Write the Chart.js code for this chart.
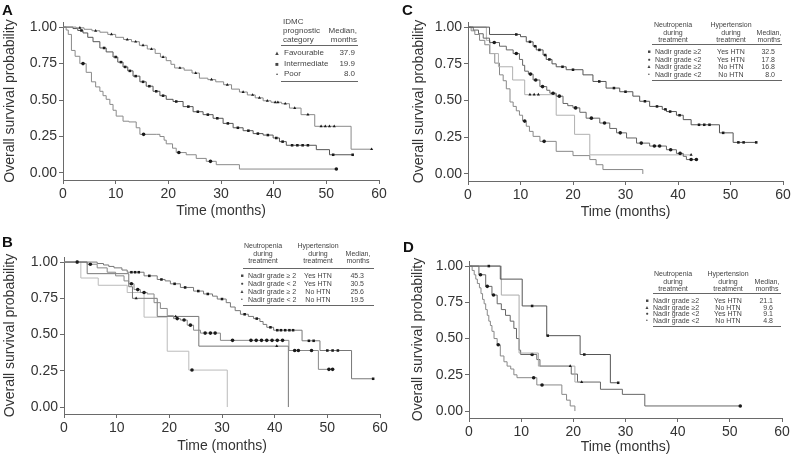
<!DOCTYPE html>
<html>
<head>
<meta charset="utf-8">
<script src="https://cdn.jsdelivr.net/npm/chart.js@4.4.1/dist/chart.umd.min.js"></script>
<style>
  body { margin: 0; background: #fff; font-family: 'Liberation Sans', Arial, sans-serif; }
  #fig { position: relative; width: 792px; height: 464px; overflow: hidden; background: #fff; }
  canvas { position: absolute; }
  .t { position: absolute; white-space: nowrap; line-height: 1; color: #444; }
  .rule { position: absolute; height: 0; border-top: 1px solid #666; }
  .letter { position: absolute; font-weight: bold; font-size: 15px; color: #111; line-height: 1; }
</style>
</head>
<body>
<div id="fig">
  <canvas id="cA" width="396" height="222" style="left:0;top:0"></canvas>
  <canvas id="cC" width="396" height="223" style="left:396px;top:0"></canvas>
  <canvas id="cB" width="396" height="225" style="left:0;top:232px"></canvas>
  <canvas id="cD" width="396" height="226" style="left:396px;top:232px"></canvas>
</div>
<script>
// Axis ticks
const xTicks = [0, 10, 20, 30, 40, 50, 60];
const yTicks = [0, 0.25, 0.5, 0.75, 1];

// Curves: [time (months), survival, censor mark 1/0]
// Panel A - IDMC prognostic category
const aFav = [[0,1,0],[2.5,0.995,0],[3.2,0.995,1],[4,0.985,0],[5.5,0.975,0],[6.2,0.975,1],[7,0.965,0],[8.5,0.95,0],[9.2,0.95,1],[10,0.93,0],[11.5,0.915,0],[12.2,0.915,1],[13,0.9,0],[13.8,0.9,1],[14.5,0.875,0],[15.2,0.875,1],[16,0.85,0],[16.8,0.85,1],[17.5,0.82,0],[18.5,0.795,0],[19,0.795,1],[19.6,0.77,0],[20.5,0.745,0],[21.2,0.72,0],[22.2,0.72,1],[23,0.705,0],[24.5,0.685,0],[25.2,0.685,1],[25.9,0.65,0],[27.5,0.64,0],[28.2,0.64,1],[29,0.625,0],[30.5,0.605,0],[31.2,0.605,1],[32,0.575,0],[33.5,0.555,0],[34.2,0.555,1],[35,0.535,0],[36,0.535,1],[36.5,0.515,0],[37.3,0.515,1],[38,0.495,0],[38.8,0.495,1],[39.5,0.485,0],[40.3,0.485,1],[40.8,0.485,1],[41.5,0.475,0],[42.2,0.475,1],[43,0.445,0],[44,0.445,1],[45.2,0.4,0],[46.5,0.4,1],[47.8,0.32,0],[49,0.32,1],[49.8,0.32,1],[50.6,0.32,1],[51.5,0.32,1],[54.7,0.163,0],[58.6,0.163,1]];
const aInt = [[0,1,0],[1.9,0.99,0],[2.8,0.977,0],[3.5,0.977,1],[3.8,0.96,0],[4.7,0.93,0],[5.7,0.9,0],[7,0.857,0],[7.8,0.857,1],[8.2,0.83,0],[9.5,0.795,0],[10,0.795,1],[10.4,0.76,0],[11,0.76,1],[11.4,0.727,0],[11.8,0.727,1],[12.3,0.7,0],[12.7,0.7,1],[13.3,0.664,0],[13.8,0.664,1],[14.6,0.625,0],[15.2,0.625,1],[15.8,0.595,0],[16.4,0.595,1],[17.1,0.56,0],[17.7,0.56,1],[18.4,0.53,0],[19,0.53,1],[19.6,0.505,0],[20.9,0.49,0],[21.5,0.49,1],[22.8,0.455,0],[23.8,0.455,1],[24.7,0.42,0],[25.6,0.42,1],[26.6,0.4,0],[27.5,0.4,1],[28.5,0.375,0],[29.3,0.375,1],[30.4,0.34,0],[31.3,0.34,1],[32.3,0.31,0],[33.2,0.31,1],[34.2,0.29,0],[35.2,0.29,1],[36.1,0.27,0],[37,0.27,1],[38,0.26,0],[38.9,0.26,1],[39.9,0.24,0],[40.5,0.24,1],[41.1,0.215,0],[41.7,0.215,1],[42.4,0.19,0],[43.5,0.19,1],[44.5,0.19,1],[45.5,0.19,1],[46.5,0.19,1],[48.1,0.16,0],[50.6,0.125,0],[51.3,0.125,1],[55,0.125,1]];
const aPoor = [[0,1,0],[0.6,0.98,0],[1,0.95,0],[1.6,0.84,0],[2.3,0.8,0],[3.2,0.75,0],[3.8,0.75,1],[4.4,0.69,0],[5.4,0.625,0],[6.2,0.59,0],[7,0.56,0],[7.6,0.53,0],[8.2,0.505,0],[8.9,0.47,0],[9.5,0.43,0],[10.1,0.39,0],[11.4,0.355,0],[12.5,0.35,0],[13.9,0.31,0],[14.6,0.265,0],[15.3,0.265,1],[17.7,0.265,0],[18.4,0.25,0],[19.2,0.225,0],[19.6,0.2,0],[20.8,0.17,0],[21.5,0.14,0],[22,0.14,1],[23.4,0.125,0],[25.3,0.1,0],[27.2,0.08,0],[28,0.08,1],[29.1,0.057,0],[33.5,0.027,0],[51.9,0.027,1]];

// Panel B - neutropenia x hypertension (first cohort)
const bGeYes = [[0,1,0],[2.5,1,1],[6.3,0.99,0],[7.5,0.98,0],[8.5,0.97,0],[9.5,0.96,0],[11,0.945,0],[12,0.93,0],[12.8,0.93,1],[13.5,0.93,1],[14.2,0.93,1],[15.2,0.905,0],[16.2,0.905,1],[17.7,0.88,0],[18.5,0.88,1],[19.2,0.87,0],[20.2,0.85,0],[21,0.85,1],[22.1,0.825,0],[23,0.825,1],[24.6,0.8,0],[25.5,0.8,1],[26.5,0.78,0],[27.3,0.78,1],[28.2,0.765,0],[29.1,0.745,0],[30,0.745,1],[30.8,0.72,0],[31.6,0.69,0],[32.5,0.665,0],[33.5,0.64,0],[34.3,0.64,1],[35,0.625,0],[36,0.61,0],[36.6,0.61,1],[37.2,0.59,0],[37.8,0.57,0],[38.5,0.55,0],[39.2,0.55,1],[39.8,0.53,0],[40.5,0.53,1],[41.2,0.53,1],[42,0.53,1],[42.8,0.53,1],[43.5,0.53,1],[45.2,0.457,0],[46.5,0.457,1],[47.4,0.457,1],[48.6,0.39,0],[50,0.39,1],[51,0.39,1],[52,0.39,1],[54.6,0.195,0],[58.7,0.195,1]];
const bLtYes = [[0,1,0],[2.5,1,1],[4.4,0.985,0],[5,0.985,1],[6.3,0.96,0],[8.2,0.93,0],[9.8,0.905,0],[11.4,0.87,0],[12.3,0.85,0],[12.8,0.85,1],[13.3,0.81,0],[14,0.81,1],[14.5,0.79,0],[15.2,0.79,1],[15.8,0.78,0],[17.1,0.72,0],[18.3,0.68,0],[19.6,0.63,0],[20.8,0.61,0],[21.5,0.61,1],[22.1,0.6,0],[22.8,0.6,1],[23.4,0.565,0],[24,0.565,1],[24.6,0.53,0],[25.9,0.51,0],[26.8,0.51,1],[27.8,0.51,1],[28.7,0.51,1],[29.7,0.46,0],[32,0.46,1],[35.5,0.46,1],[36.5,0.46,1],[37.5,0.46,1],[38.5,0.46,1],[39.5,0.46,1],[40.5,0.46,1],[41.5,0.46,1],[42.7,0.39,0],[43.8,0.39,1],[44.5,0.39,1],[47,0.39,1],[48.3,0.26,0],[50.3,0.26,1],[51,0.26,1]];
const bGeNo = [[0,1,0],[4.4,0.92,0],[12.3,0.83,0],[13,0.75,0],[13.7,0.75,1],[17.7,0.625,0],[21.2,0.625,1],[25.6,0.42,0],[40.4,0.42,1],[42.6,0,0]];
const bLtNo = [[0,1,0],[3.2,0.89,0],[6.5,0.84,0],[12,0.79,0],[15.2,0.62,0],[19.6,0.385,0],[23.7,0.255,0],[24.3,0.255,1],[31,0,0]];

// Panel C - neutropenia x hypertension (second cohort)
const cGeYes = [[0,1,0],[4.1,0.95,0],[9.2,0.95,1],[10,0.935,0],[11.1,0.9,0],[11.8,0.9,1],[12.4,0.87,0],[12.8,0.87,1],[13,0.845,0],[13.6,0.845,1],[14.3,0.81,0],[14.7,0.81,1],[14.9,0.78,0],[15.5,0.78,1],[16,0.75,0],[16.8,0.73,0],[18,0.73,1],[18.7,0.71,0],[20,0.71,1],[21.9,0.675,0],[23.8,0.63,0],[25,0.63,1],[26.3,0.585,0],[27.8,0.585,1],[28.9,0.56,0],[30,0.56,1],[31.4,0.53,0],[32.7,0.495,0],[33.7,0.495,1],[34.6,0.46,0],[36,0.46,1],[37,0.44,0],[37.6,0.44,1],[37.8,0.425,0],[38.5,0.425,1],[39.7,0.4,0],[40.3,0.4,1],[41,0.37,0],[42.5,0.335,0],[44,0.335,1],[45,0.335,1],[46,0.335,1],[47.9,0.28,0],[48.6,0.28,1],[50.5,0.215,0],[51.5,0.215,1],[52.5,0.215,1],[54.9,0.215,1]];
const cLtYes = [[0,1,0],[1,0.98,0],[2,0.955,0],[2.9,0.925,0],[4.1,0.895,0],[5,0.895,1],[6,0.87,0],[7.3,0.845,0],[8.6,0.82,0],[9.2,0.82,1],[9.8,0.78,0],[10.4,0.74,0],[10.8,0.7,0],[11.5,0.68,0],[11.9,0.68,1],[12.4,0.64,0],[12.9,0.64,1],[13.7,0.595,0],[14.2,0.595,1],[15,0.57,0],[15.6,0.55,0],[16.2,0.55,1],[16.8,0.53,0],[17.4,0.53,1],[18.1,0.48,0],[19,0.465,0],[20,0.45,0],[20.5,0.45,1],[21.3,0.42,0],[22.5,0.38,0],[23.5,0.38,1],[25.1,0.347,0],[26,0.347,1],[27,0.31,0],[28.3,0.28,0],[29,0.28,1],[30.2,0.245,0],[32.1,0.21,0],[33,0.21,1],[34.6,0.19,0],[35.5,0.19,1],[36.5,0.19,1],[37.8,0.165,0],[38.6,0.165,1],[39.7,0.14,0],[40.4,0.14,1],[41,0.12,0],[41.6,0.098,0],[42.5,0.098,1],[43.5,0.098,1]];
const cGeNo = [[0,1,0],[3.5,0.91,0],[4.2,0.82,0],[5.8,0.73,0],[8.5,0.64,0],[10.8,0.54,0],[11.8,0.54,1],[12.6,0.54,1],[13.4,0.54,1],[16.8,0.4,0],[20.3,0.27,0],[23.2,0.13,0],[42.5,0.13,1]];
const cLtNo = [[0,1,0],[0.6,0.975,0],[1.3,0.95,0],[2.2,0.91,0],[3.2,0.88,0],[4.1,0.82,0],[5.1,0.755,0],[6,0.675,0],[6.7,0.635,0],[7.3,0.58,0],[8,0.49,0],[8.6,0.46,0],[9.2,0.43,0],[9.8,0.4,0],[10.4,0.36,0],[10.8,0.36,1],[11.1,0.325,0],[11.7,0.29,0],[12.4,0.256,0],[13.7,0.222,0],[14.5,0.222,1],[16.8,0.154,0],[20,0.125,0],[23.2,0.098,0],[24.4,0.063,0],[25.7,0.03,0],[33.3,0,0]];

// Panel D - neutropenia x hypertension (third cohort)
const dGeYes = [[0,1,0],[3.8,1,1],[6,0.91,0],[10.2,0.725,0],[12.1,0.725,1],[14.9,0.52,0],[15.1,0.52,1],[21.3,0.39,0],[22.1,0.39,1],[27.1,0.195,0],[28.6,0.195,1]];
const dGeNo = [[0,1,0],[6.2,0.8,0],[9.6,0.4,0],[13.3,0.31,0],[19.4,0.31,1],[20.3,0.2,0],[21.6,0.2,1]];
const dLtYes = [[0,1,0],[1.9,0.94,0],[2.2,0.94,1],[3.2,0.86,0],[3.5,0.86,1],[4.4,0.8,0],[4.7,0.8,1],[5.4,0.74,0],[6.2,0.7,0],[7,0.66,0],[7.9,0.62,0],[8.6,0.57,0],[9.1,0.5,0],[9.6,0.42,0],[9.9,0.39,0],[12.1,0.39,1],[13,0.355,0],[13.6,0.31,0],[19.6,0.255,0],[20.8,0.2,0],[25.2,0.15,0],[29.4,0.115,0],[33.7,0.035,0],[52,0.035,1]];
const dLtNo = [[0,1,0],[0.6,0.97,0],[1,0.94,0],[1.3,0.91,0],[1.6,0.88,0],[2,0.85,0],[2.3,0.81,0],[2.6,0.77,0],[2.9,0.74,0],[3.2,0.7,0],[3.5,0.66,0],[3.8,0.62,0],[4.1,0.59,0],[4.4,0.55,0],[4.8,0.5,0],[5.4,0.457,0],[5.6,0.457,1],[6,0.38,0],[6.7,0.34,0],[7.3,0.31,0],[8,0.29,0],[8.6,0.25,0],[9.2,0.23,0],[12.4,0.23,1],[13,0.18,0],[14,0.18,1],[17.8,0.115,0],[18.7,0.075,0],[19.4,0.035,0],[20.3,0,0]];

// Legend tables
const aGroups = ['Favourable', 'Intermediate', 'Poor'];
const aMedians = ['37.9', '19.9', '8.0'];
const bGrades = ['Nadir grade \u2265 2', 'Nadir grade < 2', 'Nadir grade \u2265 2', 'Nadir grade < 2'];
const bHtn = ['Yes HTN', 'Yes HTN', 'No HTN', 'No HTN'];
const bMedians = ['45.3', '30.5', '25.6', '19.5'];
const cGrades = ['Nadir grade \u22652', 'Nadir grade <2', 'Nadir grade \u22652', 'Nadir grade <2'];
const cHtn = ['Yes HTN', 'Yes HTN', 'No HTN', 'No HTN'];
const cMedians = ['32.5', '17.8', '16.8', '8.0'];
const dGrades = ['Nadir grade \u22652', 'Nadir grade \u22652', 'Nadir grade <2', 'Nadir grade <2'];
const dHtn = ['Yes HTN', 'No HTN', 'Yes HTN', 'No HTN'];
const dMedians = ['21.1', '9.6', '9.1', '4.8'];

const FONT = "'Liberation Sans', Arial, sans-serif";
const fig = document.getElementById('fig');

// Build one Kaplan-Meier line dataset
function km(rows, color, style) {
    return {
        data: rows.map(r => ({ x: r[0], y: r[1] })),
        stepped: true,
        borderColor: color,
        borderWidth: 1,
        pointRadius: rows.map(r => r[2] ? 1.8 : 0),
        pointStyle: style,
        pointBackgroundColor: '#1a1a1a',
        pointBorderWidth: 0,
        fill: false
    };
}

function makePanel(id, w, h, padL, area, datasets) {
    const axisColor = '#6a6a6a';
    const textColor = '#333';
    return new Chart(document.getElementById(id), {
        type: 'line',
        data: { datasets: datasets },
        options: {
            responsive: false,
            animation: false,
            layout: { padding: { left: padL, top: area.top, right: w - area.right, bottom: 0 } },
            plugins: { legend: { display: false }, tooltip: { enabled: false } },
            scales: {
                x: {
                    type: 'linear', min: 0, max: 60,
                    afterBuildTicks: ax => { ax.ticks = xTicks.map(v => ({ value: v })); },
                    ticks: { font: { family: FONT, size: 14 }, color: textColor, padding: 2, maxRotation: 0 },
                    grid: { drawOnChartArea: false, drawTicks: true, tickLength: 4, color: axisColor },
                    border: { color: axisColor, width: 1 },
                    title: { display: true, text: 'Time (months)', font: { family: FONT, size: 14 }, color: textColor, padding: { top: 0, bottom: 2 } },
                    afterFit: s => { s.height = h - area.bottom; s.paddingLeft = 0; s.paddingRight = 0; }
                },
                y: {
                    type: 'linear', min: -0.048, max: 1.035,
                    afterBuildTicks: ax => { ax.ticks = yTicks.map(v => ({ value: v })); },
                    ticks: { font: { family: FONT, size: 14 }, color: textColor, padding: 2, callback: v => v.toFixed(2) },
                    grid: { drawOnChartArea: false, drawTicks: true, tickLength: 4, color: axisColor },
                    border: { color: axisColor, width: 1 },
                    title: { display: true, text: 'Overall survival probability', font: { family: FONT, size: 14 }, color: textColor, padding: { top: 2, bottom: 0 } },
                    afterFit: s => { s.width = area.left - padL; s.paddingTop = 0; s.paddingBottom = 0; }
                }
            }
        }
    });
}

makePanel('cA', 396, 222, 0, { left: 63, right: 379, top: 22, bottom: 180 }, [
    km(aFav, '#8a8a8a', 'triangle'),
    km(aInt, '#555', 'rect'),
    km(aPoor, '#8a8a8a', 'circle')
]);
makePanel('cC', 396, 223, 13, { left: 72, right: 387, top: 22, bottom: 181 }, [
    km(cGeYes, '#555', 'rect'),
    km(cLtYes, '#666', 'circle'),
    km(cGeNo, '#b0b0b0', 'triangle'),
    km(cLtNo, '#888', 'circle')
]);
makePanel('cB', 396, 225, 0, { left: 64, right: 380, top: 25, bottom: 182 }, [
    km(bGeYes, '#777', 'rect'),
    km(bLtYes, '#888', 'circle'),
    km(bGeNo, '#777', 'triangle'),
    km(bLtNo, '#bbb', 'circle')
]);
makePanel('cD', 396, 226, 12, { left: 73, right: 386, top: 29, bottom: 186 }, [
    km(dGeYes, '#555', 'rect'),
    km(dGeNo, '#aaa', 'triangle'),
    km(dLtYes, '#666', 'circle'),
    km(dLtNo, '#888', 'circle')
]);

// HTML text helpers for letters and legend tables
function txt(x, y, s, align, size) {
    const d = document.createElement('div');
    d.className = 't';
    d.textContent = s;
    d.style.fontSize = size + 'px';
    d.style.left = x + 'px';
    d.style.top = y + 'px';
    const tx = align === 'center' ? '-50%' : align === 'right' ? '-100%' : '0';
    d.style.transform = `translate(${tx}, -50%)`;
    fig.appendChild(d);
}
function rule(x1, x2, y) {
    const d = document.createElement('div');
    d.className = 'rule';
    d.style.left = x1 + 'px';
    d.style.width = (x2 - x1) + 'px';
    d.style.top = y + 'px';
    fig.appendChild(d);
}
function letter(x, y, s) {
    const d = document.createElement('div');
    d.className = 'letter';
    d.textContent = s;
    d.style.left = x + 'px';
    d.style.top = y + 'px';
    fig.appendChild(d);
}
const MARK = { rect: '\u25A0', circle: '\u25CF', triangle: '\u25B2', dot: '\u2022' };

letter(2, 2, 'A');
letter(402, 2, 'C');
letter(2, 234, 'B');
letter(403, 239, 'D');

// Legend A
txt(283, 22, 'IDMC', 'left', 8);
txt(283, 31, 'prognostic', 'left', 8);
txt(283, 40, 'category', 'left', 8);
txt(357, 31, 'Median,', 'right', 8);
txt(357, 40, 'months', 'right', 8);
rule(281, 358, 45);
const aMarks = ['triangle', 'rect', 'dot'];
aGroups.forEach((g, i) => {
    const y = 53 + i * 10.5;
    txt(277, y, MARK[aMarks[i]], 'center', 6);
    txt(284, y, g, 'left', 8);
    txt(355, y, aMedians[i], 'right', 8);
});
rule(281, 358, 81);

// Legend B, C, D share the same layout
function nadirLegend(o, grades, htn, medians, marks) {
    txt(o.c1, o.h1, 'Neutropenia', 'center', 7);
    txt(o.c1, o.h1 + 8, 'during', 'center', 7);
    txt(o.c1, o.h1 + 15, 'treatment', 'center', 7);
    txt(o.c2, o.h1, 'Hypertension', 'center', 7);
    txt(o.c2, o.h1 + 8, 'during', 'center', 7);
    txt(o.c2, o.h1 + 15, 'treatment', 'center', 7);
    txt(o.c3, o.h1 + 8, 'Median,', 'center', 7);
    txt(o.c3, o.h1 + 15, 'months', 'center', 7);
    rule(o.x1, o.x2, o.line);
    grades.forEach((g, i) => {
        const y = o.line + 7 + i * o.step;
        txt(o.mx, y, MARK[marks[i]], 'center', 5);
        txt(o.mx + 6, y, g, 'left', 7);
        txt(o.c2, y, htn[i], 'center', 7);
        txt(o.c3 + 6, y, medians[i], 'right', 7);
    });
    rule(o.x1, o.x2, o.line + 7 + 3 * o.step + 6);
}
nadirLegend({ c1: 263, c2: 318, c3: 358, h1: 245, line: 268, x1: 243, x2: 374, mx: 242, step: 8 },
    bGrades, bHtn, bMedians, ['rect', 'circle', 'triangle', 'dot']);
nadirLegend({ c1: 673, c2: 731, c3: 769, h1: 24, line: 44, x1: 652, x2: 782, mx: 649, step: 7.6 },
    cGrades, cHtn, cMedians, ['rect', 'circle', 'triangle', 'dot']);
nadirLegend({ c1: 673, c2: 728, c3: 767, h1: 273, line: 293, x1: 653, x2: 781, mx: 647, step: 6.7 },
    dGrades, dHtn, dMedians, ['rect', 'triangle', 'circle', 'dot']);
</script>
</body>
</html>
